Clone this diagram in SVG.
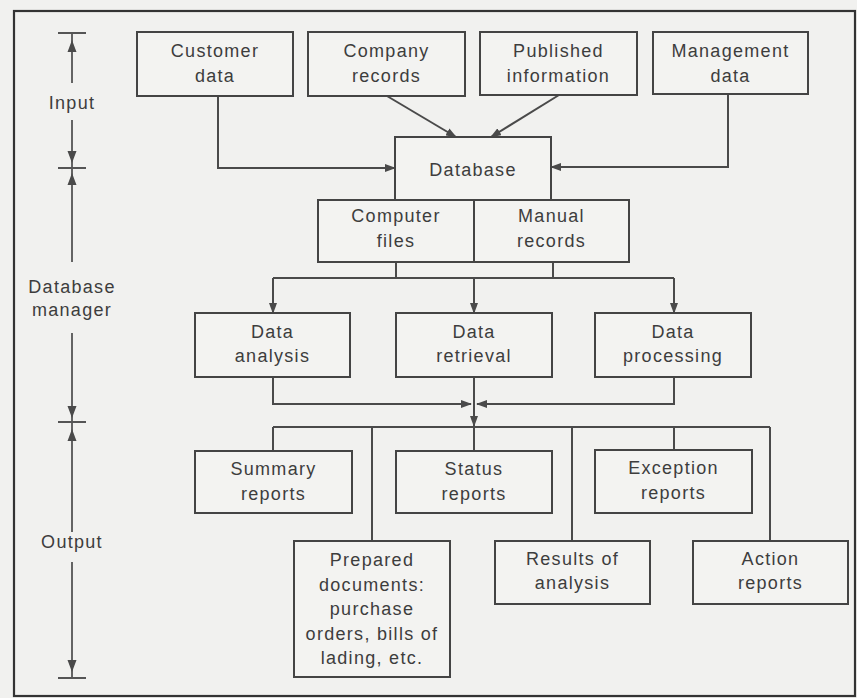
<svg xmlns="http://www.w3.org/2000/svg" width="857" height="698" viewBox="0 0 857 698">
<defs>
<style>
.bg{fill:#f1f1ef}
.frame{fill:none;stroke:#333;stroke-width:2.2}
.box{fill:#f3f3f1;stroke:#444;stroke-width:2}
.ln{fill:none;stroke:#4a4a4a;stroke-width:2}
.ax{fill:none;stroke:#555;stroke-width:1.8}
.ah{fill:#4a4a4a}
text{font-family:"Liberation Sans",Arial,sans-serif;font-size:18px;fill:#3d3d3d;text-anchor:middle;letter-spacing:1.3px}
</style>
<marker id="arr" markerUnits="userSpaceOnUse" markerWidth="11" markerHeight="8" refX="10" refY="4" orient="auto">
<path d="M0,0 L11,4 L0,8 z" fill="#4a4a4a"/>
</marker>
</defs>
<rect class="bg" x="0" y="0" width="857" height="698"/>
<rect class="frame" x="14" y="11" width="841" height="685"/>

<g id="axis">
<path class="ax" d="M58,33 H86 M58,168 H86 M58,422 H86 M58,678 H86"/>
<path class="ax" d="M72,33 V83 M72,120 V168 V262 M72,333 V422 V532 M72,562 V678"/>
<path class="ah" d="M72,40 L67.5,52 L76.5,52 z M72,163 L67.5,151 L76.5,151 z M72,173 L67.5,185 L76.5,185 z M72,418 L67.5,406 L76.5,406 z M72,429 L67.5,441 L76.5,441 z M72,672 L67.5,660 L76.5,660 z"/>
<text x="72" y="109">Input</text>
<text x="72" y="293">Database</text>
<text x="72" y="316">manager</text>
<text x="72" y="548">Output</text>
</g>

<g id="connectors">
<path class="ln" d="M218,96 V168 H395" marker-end="url(#arr)"/>
<path class="ln" d="M728,94 V167 H551" marker-end="url(#arr)"/>
<path class="ln" d="M387,96 L456,137" marker-end="url(#arr)"/>
<path class="ln" d="M559,95 L491,137" marker-end="url(#arr)"/>
<path class="ln" d="M396,262 V278 M553,262 V278 M273,278 H674"/>
<path class="ln" d="M273,278 V313" marker-end="url(#arr)"/>
<path class="ln" d="M474,278 V313" marker-end="url(#arr)"/>
<path class="ln" d="M674,278 V313" marker-end="url(#arr)"/>
<path class="ln" d="M273,377 V404 H471" marker-end="url(#arr)"/>
<path class="ln" d="M674,377 V404 H477" marker-end="url(#arr)"/>
<path class="ln" d="M474,377 V426" marker-end="url(#arr)"/>
<path class="ln" d="M273,427 H770 M273,427 V451 M372,427 V541 M474,427 V451 M572,427 V541 M674,427 V450 M770,427 V541"/>
</g>

<g id="customer-data"><rect class="box" x="137" y="32" width="156" height="64"/><text x="215" y="57">Customer</text><text x="215" y="82">data</text></g>
<g id="company-records"><rect class="box" x="308" y="32" width="157" height="64"/><text x="386.5" y="57">Company</text><text x="386.5" y="82">records</text></g>
<g id="published-information"><rect class="box" x="480" y="32" width="157" height="63"/><text x="558.5" y="57">Published</text><text x="558.5" y="82">information</text></g>
<g id="management-data"><rect class="box" x="653" y="32" width="155" height="62"/><text x="730.5" y="57">Management</text><text x="730.5" y="82">data</text></g>

<g id="database"><rect class="box" x="395" y="137" width="156" height="63"/><text x="473" y="176">Database</text></g>
<g id="computer-files"><rect class="box" x="318" y="200" width="156" height="62"/><text x="396" y="222">Computer</text><text x="396" y="247">files</text></g>
<g id="manual-records"><rect class="box" x="474" y="200" width="155" height="62"/><text x="551.5" y="222">Manual</text><text x="551.5" y="247">records</text></g>

<g id="data-analysis"><rect class="box" x="195" y="313" width="155" height="64"/><text x="272.5" y="338">Data</text><text x="272.5" y="362">analysis</text></g>
<g id="data-retrieval"><rect class="box" x="396" y="313" width="156" height="64"/><text x="474" y="338">Data</text><text x="474" y="362">retrieval</text></g>
<g id="data-processing"><rect class="box" x="595" y="313" width="156" height="64"/><text x="673" y="338">Data</text><text x="673" y="362">processing</text></g>

<g id="summary-reports"><rect class="box" x="195" y="451" width="157" height="62"/><text x="273.5" y="475">Summary</text><text x="273.5" y="500">reports</text></g>
<g id="status-reports"><rect class="box" x="396" y="451" width="156" height="62"/><text x="474" y="475">Status</text><text x="474" y="500">reports</text></g>
<g id="exception-reports"><rect class="box" x="595" y="450" width="157" height="63"/><text x="673.5" y="474">Exception</text><text x="673.5" y="499">reports</text></g>
<g id="prepared-documents"><rect class="box" x="294" y="541" width="156" height="136"/><text x="372" y="566">Prepared</text><text x="372" y="590.5">documents:</text><text x="372" y="615">purchase</text><text x="372" y="639.5">orders, bills of</text><text x="372" y="664">lading, etc.</text></g>
<g id="results-of-analysis"><rect class="box" x="495" y="541" width="155" height="63"/><text x="572.5" y="565">Results of</text><text x="572.5" y="589">analysis</text></g>
<g id="action-reports"><rect class="box" x="693" y="541" width="155" height="63"/><text x="770.5" y="565">Action</text><text x="770.5" y="589">reports</text></g>
</svg>
